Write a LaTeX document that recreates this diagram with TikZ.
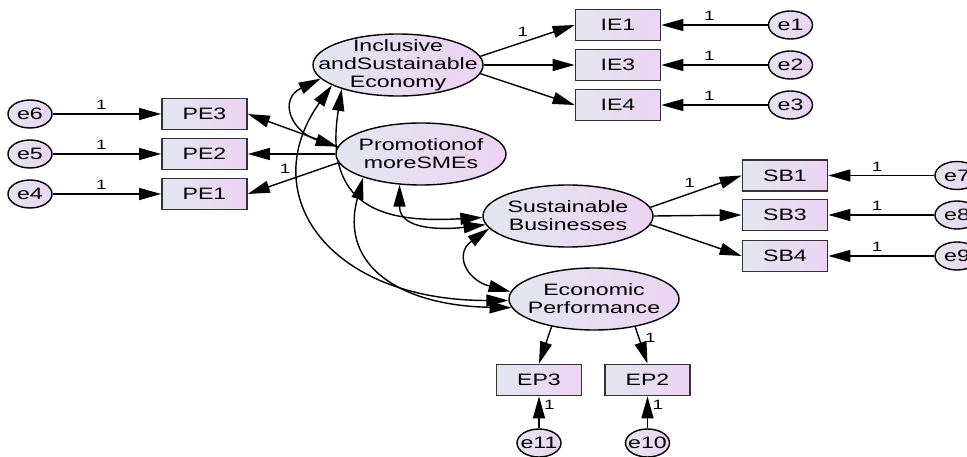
\documentclass[tikz,border=0pt]{standalone}
\usepackage{fontspec}
\newfontfamily\amos[FakeStretch=1.4]{Liberation Sans}
\usetikzlibrary{shapes.geometric,arrows.meta,backgrounds}
\definecolor{gl}{RGB}{227,230,240}
\definecolor{gr}{RGB}{236,211,243}
\begin{document}
\begin{tikzpicture}[x=1pt,y=-1pt,
  txt/.style={font=\amos\fontsize{16.5}{18}\selectfont, align=center, inner sep=0pt},
  lat/.style={ellipse, draw=black, line width=1.4pt, left color=gl, right color=gr,
    minimum width=170pt, minimum height=62pt, inner sep=0pt},
  obs/.style={rectangle, draw=black!80, line width=1.7pt, left color=gl, right color=gr,
    minimum width=85pt, minimum height=31pt, inner sep=0pt, font=\amos\fontsize{16.5}{18}\selectfont},
  err/.style={ellipse, draw=black, line width=1.4pt, left color=gl, right color=gr,
    minimum width=44pt, minimum height=28pt, inner sep=0pt},
  tip/.tip={Triangle[length=22pt,width=12pt]},
  arr/.style={line width=1.4pt, -tip},
  cov/.style={line width=1.4pt, tip-tip},
  lbl/.style={font=\amos\fontsize{13.5}{14}\selectfont, inner sep=1.5pt}]
\useasboundingbox (0,0) rectangle (967,457);

% latent variables
\node[lat, label={[txt]center:Inclusive\\andSustainable\\Economy}] (ISE) at (398,65) {};
\node[lat, label={[txt]center:Promotionof\\moreSMEs}] (PMS) at (421,154) {};
\node[lat, label={[txt]center:Sustainable\\Businesses}] (SB) at (568,216) {};
\node[lat, label={[txt]center:Economic\\Performance}] (EP) at (594,299) {};

% observed variables
\node[obs] (PE3) at (204.5,114) {PE3};
\node[obs] (PE2) at (204.5,154) {PE2};
\node[obs] (PE1) at (204.5,194) {PE1};
\node[obs] (IE1) at (618,25) {IE1};
\node[obs] (IE3) at (618,65) {IE3};
\node[obs] (IE4) at (618,105) {IE4};
\node[obs] (SB1) at (785,175.5) {SB1};
\node[obs] (SB3) at (785,215) {SB3};
\node[obs] (SB4) at (785,256) {SB4};
\node[obs] (EP3) at (539,380) {EP3};
\node[obs] (EP2) at (647.5,380) {EP2};

% error terms
\node[err, label={[txt]center:e6}] (e6) at (30,114) {};
\node[err, label={[txt]center:e5}] (e5) at (30,154) {};
\node[err, label={[txt]center:e4}] (e4) at (30,194) {};
\node[err, label={[txt]center:e1}] (e1) at (790.5,25) {};
\node[err, label={[txt]center:e2}] (e2) at (790.5,65) {};
\node[err, label={[txt]center:e3}] (e3) at (790.5,105) {};
\node[err, label={[txt]center:e7}] (e7) at (957,175.5) {};
\node[err, label={[txt]center:e8}] (e8) at (957,215) {};
\node[err, label={[txt]center:e9}] (e9) at (957,256) {};
\node[err, label={[txt]center:e11}] (e11) at (539,443) {};
\node[err, label={[txt]center:e10}] (e10) at (647.5,443) {};

\begin{scope}[on background layer]
% covariances
\draw[cov] (ISE.190) .. controls +(-43,21) and +(-46,-15) .. (PMS.175);
\draw[cov] (ISE.203) .. controls +(-20,126) and +(-88,5) .. (SB.181);
\draw[cov] (ISE.197) .. controls +(-78,110) and +(-179,0) .. (EP.181);
\draw[cov] (PMS.235) .. controls +(0,46) and +(-41,5) .. (SB.186);
\draw[cov] (PMS.202) .. controls +(-24,88) and +(-112,-2) .. (EP.186);
\draw[cov] (SB.189) .. controls +(-35,25) and +(-45,-12) .. (EP.175);
\end{scope}

% loadings
\draw[arr] (PMS.175) -- (PE3.east);
\draw[arr] (PMS.west) -- (PE2.east);
\draw[arr] (PMS.186) -- node[lbl, above=5pt, pos=.59] (l1) {1} (PE1.east);
\draw[arr] (ISE.6) -- node[lbl, above=4pt, pos=.45] (l2) {1} (IE1.west);
\draw[arr] (ISE.east) -- (IE3.west);
\draw[arr] (ISE.354) -- (IE4.west);
\draw[arr] (SB.6) -- node[lbl, above=4pt, pos=.43] (l3) {1} (SB1.west);
\draw[arr] (SB.east) -- (SB3.west);
\draw[arr] (SB.354) -- (SB4.west);
\draw[arr] (EP.213) -- (EP3.north);
\draw[arr] (EP.326) -- node[lbl, right=4pt, pos=.31] (l4) {1} (EP2.north);

% error paths
\draw[arr] (e6) -- node[lbl, above=2pt, pos=.45] (l5) {1} (PE3);
\draw[arr] (e5) -- node[lbl, above=2pt, pos=.45] (l6) {1} (PE2);
\draw[arr] (e4) -- node[lbl, above=2pt, pos=.45] (l7) {1} (PE1);
\draw[arr] (e1) -- node[lbl, above=2pt, pos=.55] (l8) {1} (IE1);
\draw[arr] (e2) -- node[lbl, above=2pt, pos=.55] (l9) {1} (IE3);
\draw[arr] (e3) -- node[lbl, above=2pt, pos=.55] (l10) {1} (IE4);
\draw[arr] (e7) -- node[lbl, above=2pt, pos=.54] (l11) {1} (SB1);
\draw[arr] (e8) -- node[lbl, above=2pt, pos=.54] (l12) {1} (SB3);
\draw[arr] (e9) -- node[lbl, above=2pt, pos=.54] (l13) {1} (SB4);
\draw[arr] (e11) -- node[lbl, right=3pt, pos=.72] (l14) {1} (EP3);
\draw[arr] (e10) -- node[lbl, right=3pt, pos=.72] (l15) {1} (EP2);
\end{tikzpicture}
\end{document}
